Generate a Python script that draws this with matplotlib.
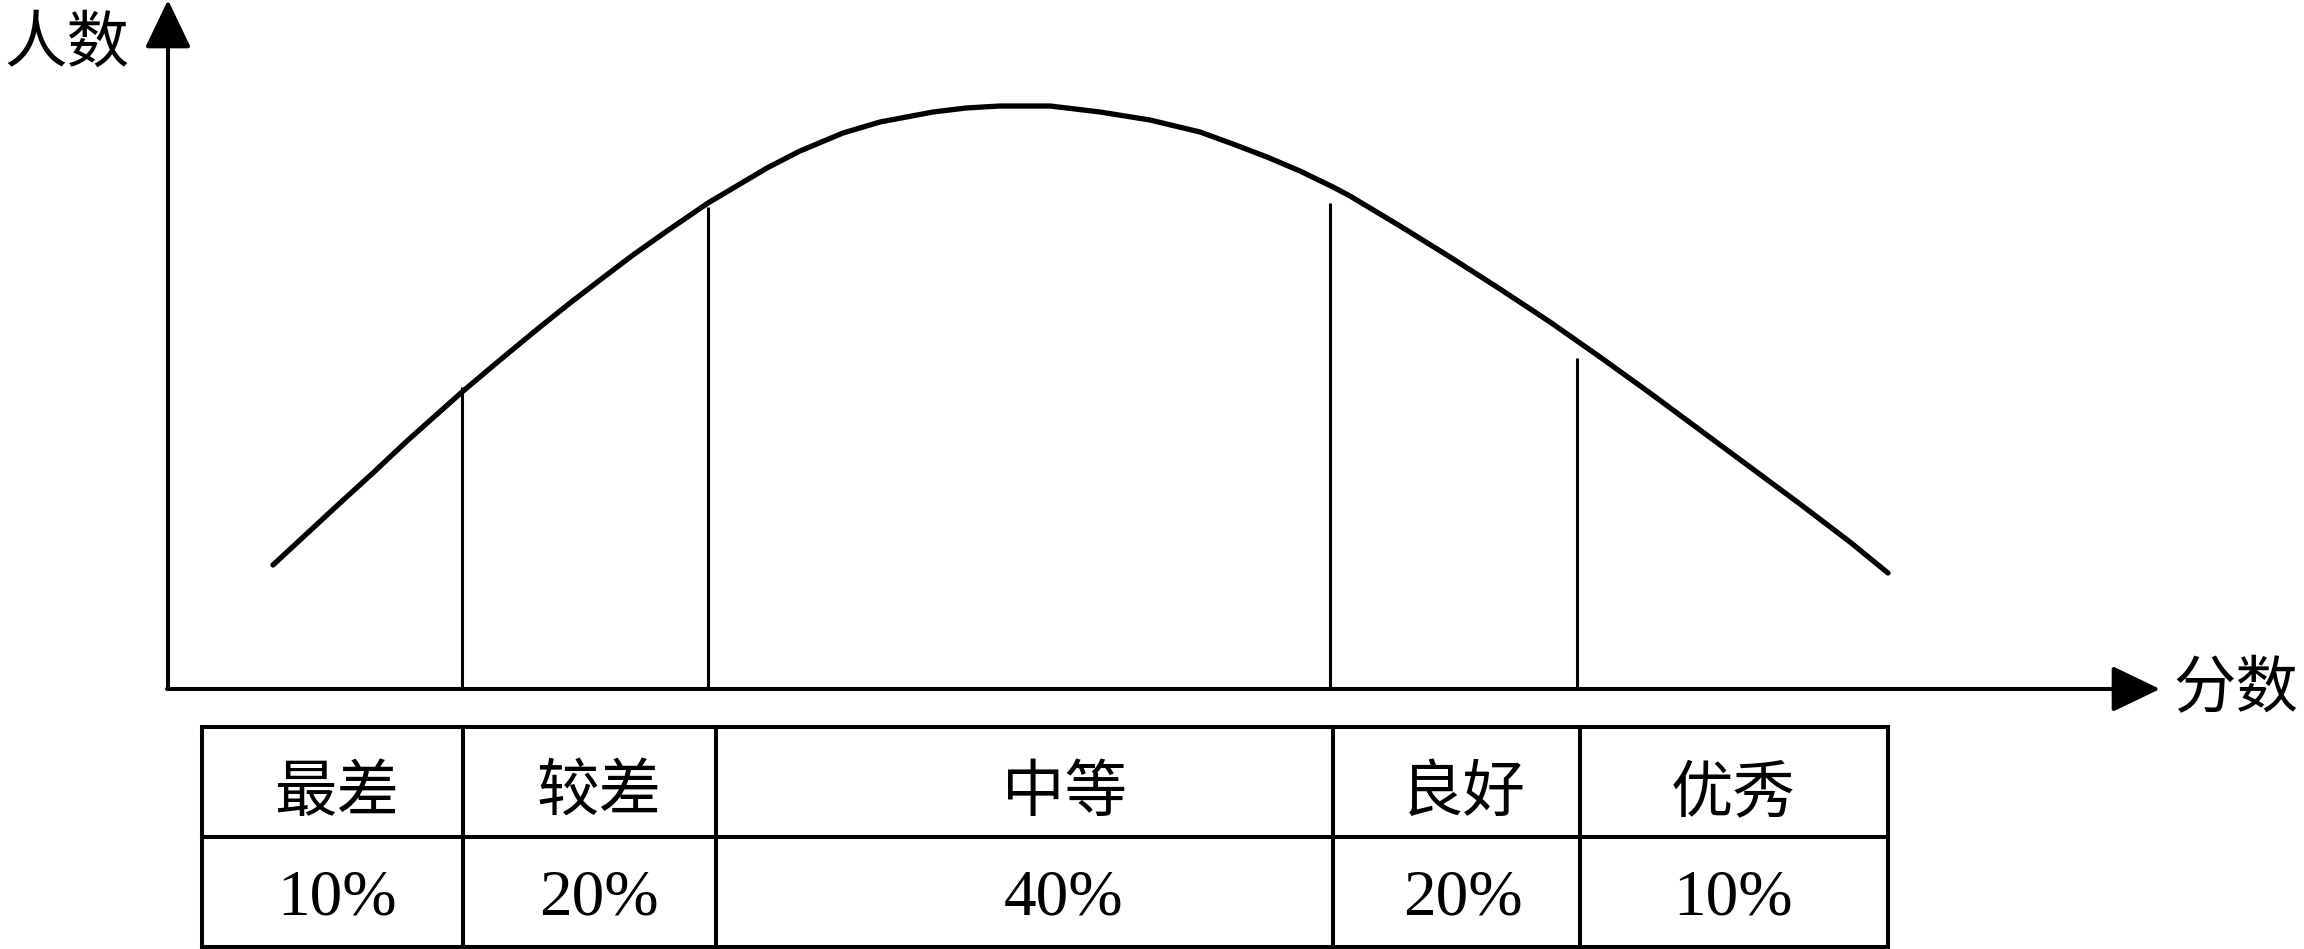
import numpy as np
import matplotlib
matplotlib.use('Agg')
import matplotlib.pyplot as plt

plt.rcParams['font.family'] = ['Noto Sans CJK SC', 'DejaVu Sans']

# 曲线数据 (分数, 人数) —— 从原图读取
score = [105, 132, 172, 206, 239, 294, 332, 372, 402, 432, 465, 499, 540,
         599, 632, 675, 712, 765, 798, 832, 882, 932, 982, 1032, 1065,
         1099, 1132, 1165, 1182, 1232, 1282, 1332, 1382, 1432, 1482, 1532,
         1582, 1632, 1682, 1720]
count = [124, 149, 186, 217, 248, 297, 329, 362, 386, 409, 434, 458, 486,
         521, 538, 556, 567, 577, 581, 583, 583, 577, 569, 557, 545,
         532, 518, 502, 493, 463, 432, 400, 367, 332, 296, 259,
         222, 185, 147, 116]

# 分段线的位置和高度
cut_score = [294, 540, 1162, 1409]
cut_height = [302, 482, 486, 331]

# 表格内容
grades = ['最差', '较差', '中等', '良好', '优秀']
shares = [10, 20, 40, 20, 10]

# 表格布局
col_edges = [34, 295, 548, 1165, 1412, 1720]
label_x = [169, 431, 896, 1295, 1565]
row_edges = [-38, -148, -258]
row_text_y = [-104, -210]

fig = plt.figure(figsize=(23.04, 9.49), dpi=100)
ax = fig.add_axes([0, 0, 1, 1])
ax.set_xlim(-168, 2304 - 168)
ax.set_ylim(689 - 949, 689)
ax.axis('off')

# 坐标轴 (带箭头)
arrow = dict(arrowstyle='-|>,head_length=1.5,head_width=0.72', mutation_scale=20,
             lw=2.9, color='black', shrinkA=0, shrinkB=0)
ax.annotate('', xy=(0, 689), xytext=(0, 0), arrowprops=arrow)
ax.annotate('', xy=(1992, 0), xytext=(-1, 0), arrowprops=arrow)
ax.text(-101, 645, '人数', fontsize=45, ha='center', va='center')
ax.text(2068, 0, '分数', fontsize=45, ha='center', va='center')

# 正态曲线
ax.plot(score, count, color='black', lw=3.8, solid_capstyle='round', solid_joinstyle='round')

# 分段竖线
for x, h in zip(cut_score, cut_height):
    ax.plot([x, x], [0, h], color='black', lw=2.2, solid_capstyle='butt')

# 表格
tlw = 2.9
for y in row_edges:
    ax.plot([col_edges[0], col_edges[-1]], [y, y], color='black', lw=tlw, solid_capstyle='projecting')
for x in col_edges:
    ax.plot([x, x], [row_edges[0], row_edges[-1]], color='black', lw=tlw, solid_capstyle='projecting')

for i in range(len(grades)):
    ax.text(label_x[i], row_text_y[0], grades[i], fontsize=45, ha='center', va='center')
    ax.text(label_x[i], row_text_y[1], f'{shares[i]}%', fontsize=47, ha='center', va='center',
            family=['Liberation Serif'])

fig.savefig('out.png', dpi=100, facecolor='white')
